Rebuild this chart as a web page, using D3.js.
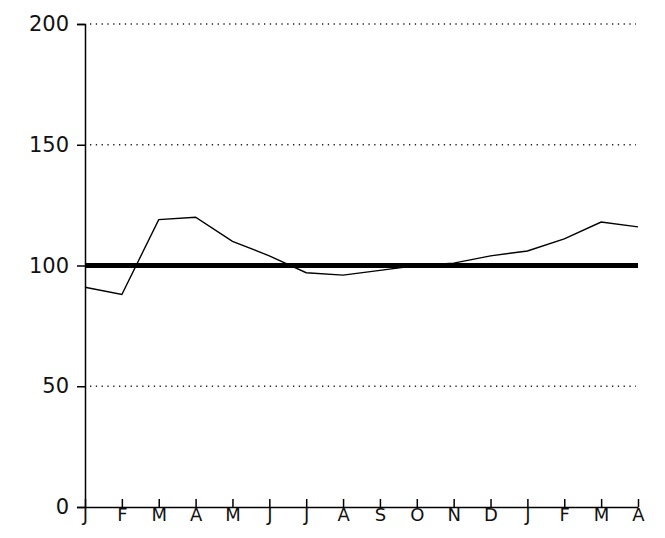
<!DOCTYPE html>
<html>
<head>
<meta charset="utf-8">
<script src="https://d3js.org/d3.v7.min.js"></script>
<style>
body { margin: 0; background: #fff; }
text { font-family: "DejaVu Sans", sans-serif; font-size: 20px; fill: #111; }
</style>
</head>
<body>
<div id="chart"></div>
<script>
"use strict";
var months = ["J","F","M","A","M","J","J","A","S","O","N","D","J","F","M","A"];
var values = [91, 88, 119, 120, 110, 104, 97, 96, 98, 100, 101, 104, 106, 111, 118, 116];
var yTicks = [0, 50, 100, 150, 200];
var gridTicks = [50, 150, 200];

var W = 665, H = 538;
var svg = d3.select("#chart").append("svg").attr("width", W).attr("height", H);

var x = d3.scaleLinear().domain([0, months.length - 1]).range([85, 638]);
var y = d3.scaleLinear().domain([0, 200]).range([507, 24]);

svg.selectAll(".grid").data(gridTicks).enter().append("line")
  .attr("x1", 90).attr("x2", 636)
  .attr("y1", d => y(d)).attr("y2", d => y(d))
  .attr("stroke", "#222").attr("stroke-width", 1.3).attr("stroke-dasharray", "1.3,4.5");

// axes
var yAxis = svg.append("g").attr("transform", "translate(85,0)")
  .call(d3.axisLeft(y).tickValues(yTicks).tickSize(8).tickPadding(8));
yAxis.select(".domain").attr("stroke-width", 1.5);
yAxis.selectAll("line").attr("stroke-width", 1.5);
yAxis.selectAll("text").style("font-size", "21px");

var xAxis = svg.append("g").attr("transform", "translate(0,507)")
  .call(d3.axisBottom(x).tickValues(d3.range(months.length)).tickFormat(i => months[i]).tickSize(-8).tickPadding(1).tickSizeOuter(0));
xAxis.select(".domain").attr("stroke-width", 1.5);
xAxis.selectAll("line").attr("stroke-width", 1.5);
xAxis.selectAll("text").style("font-size", "18px");

// baseline at 100
svg.append("line").attr("x1", x(0)).attr("x2", x(months.length - 1))
  .attr("y1", y(100)).attr("y2", y(100))
  .attr("stroke", "#000").attr("stroke-width", 5);

svg.append("path").datum(values)
  .attr("fill", "none").attr("stroke", "#000").attr("stroke-width", 1.4)
  .attr("d", d3.line().x((d, i) => x(i)).y(d => y(d)));
</script>
</body>
</html>
